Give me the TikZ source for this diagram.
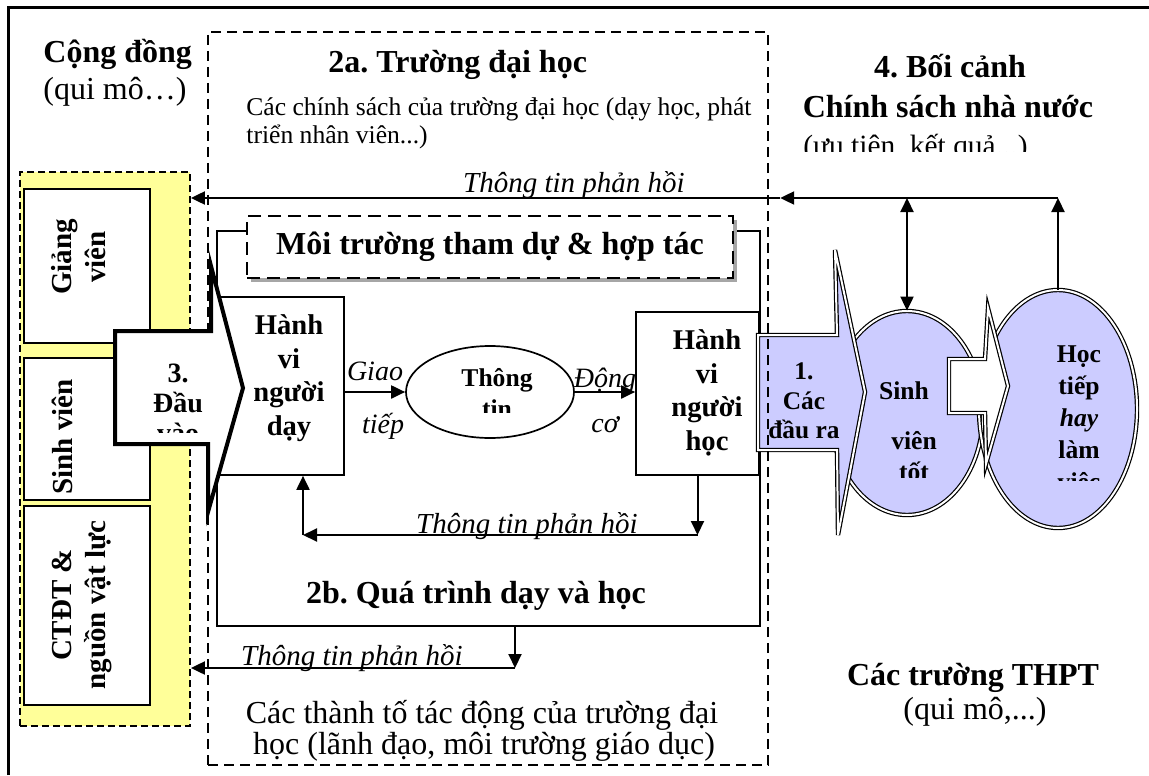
\documentclass[tikz,border=0pt]{standalone}
\usepackage{fontspec}
\setmainfont{Liberation Serif}
\usetikzlibrary{positioning,arrows.meta,shapes.geometric,shadows}

\definecolor{inyellow}{RGB}{255,255,153}
\definecolor{outlilac}{RGB}{204,204,255}

\begin{document}
\frenchspacing
\begin{tikzpicture}[x=0.5pt, y=-0.5pt,
    box/.style={draw=black, line width=0.85pt, fill=white, inner sep=0pt},
    sidetext/.style={font=\fontsize{14.5}{17}\selectfont\bfseries, align=center, inner sep=0pt, rotate=90},
    boxtext/.style={font=\fontsize{14.3}{16.8}\selectfont\bfseries, align=center, inner sep=0pt},
    smalltext/.style={font=\fontsize{12.8}{15.5}\selectfont\bfseries, align=center, inner sep=0pt},
    headtext/.style={font=\fontsize{16}{18.5}\selectfont\bfseries, inner sep=0pt},
    plaintext/.style={font=\fontsize{16}{17.5}\selectfont, inner sep=0pt},
    feedback/.style={font=\fontsize{14.5}{17}\selectfont\itshape, inner sep=0pt},
    arrlabel/.style={font=\fontsize{14}{16}\selectfont\itshape, inner sep=0pt},
    arr/.style={-{Triangle[length=7pt,width=6.5pt]}, line width=1pt},
    arrboth/.style={{Triangle[length=7pt,width=6.5pt]}-{Triangle[length=7pt,width=6.5pt]}, line width=1pt},
    blockarrow/.style={draw=black, line width=2pt, fill=white, line join=miter},
    dbl/.style={draw=black, line width=0.6pt, double=white, double distance=1pt, line join=miter},
    ]
    \useasboundingbox (0,0) rectangle (1149,775);

    %Frame
    \draw[line width=1.5pt] (8,775) -- (8,8) -- (1149,8);

    %Community column
    \node[draw=black, dash pattern=on 3.5pt off 2pt, line width=0.9pt, fill=inyellow,
          minimum width=85pt, minimum height=277pt, inner sep=0pt] (comm) at (105,449) {};
    \node[box, minimum width=63pt, minimum height=77pt]   (lect) at (87,266)   {};
    \node[box, minimum width=63pt, minimum height=71pt]   (stud) at (87,429)   {};
    \node[box, minimum width=63pt, minimum height=99.5pt] (prog) at (87,605.5) {};
    \node[sidetext] (lectT) at (79,257) {Giảng\\viên};
    \node[sidetext, anchor=base] (studT) at (72,437) {Sinh viên};
    \node[sidetext] (progT) at (82,605) {CTĐT \&\\nguồn vật lực};

    %Teaching process
    \node[box, minimum width=271.5pt, minimum height=197.5pt] (proc) at (488.5,428.5) {};
    \node[headtext, anchor=base] (procT) at (476,603) {2b. Quá trình dạy và học};
    \node[draw=black, line width=0.65pt, dash pattern=on 6.5pt off 3.5pt, fill=white,
          minimum width=243pt, minimum height=31pt, headtext,
          drop shadow={shadow xshift=2pt, shadow yshift=-2pt, fill=black!35, opacity=1}]
        (env) at (490,247) {Môi trường tham dự \& hợp tác};
    \node[box, minimum width=63pt, minimum height=89pt] (teach) at (281,386) {};
    \node[boxtext] (teachT) at (289,378) {Hành\\vi\\người\\dạy};
    \node[draw=black, line width=0.85pt, ellipse, minimum width=84pt, minimum height=46pt,
          inner sep=0pt] (info) at (490,392) {};
    \begin{scope}
        \clip (400,340) rectangle (580,412);
        \node[smalltext] (infoT) at (497,393) {Thông\\tin};
    \end{scope}
    \node[box, minimum width=61.5pt, minimum height=81.5pt] (learn) at (697.5,393.5) {};
    \node[boxtext] (learnT) at (707,393) {Hành\\vi\\người\\học};

    \draw[arr] (teach.east |- info.west) -- node[arrlabel, above=5pt] (giao) {Giao}
        node[arrlabel, below=10pt, xshift=4pt] (tiep) {tiếp} (info.west);
    \draw[arr] (info.east) -- node[arrlabel, above=-1pt] (dong) {Động}
        node[arrlabel, below=12pt] (co) {cơ} (info.east -| learn.west);

    %Outcomes
    \node[ellipse, fill=outlilac, minimum width=76pt, minimum height=102pt, inner sep=0pt] (ell1) at (907,413) {};
    \node[ellipse, fill=outlilac, minimum width=79pt, minimum height=119pt, inner sep=0pt] (ell2) at (1058,409) {};
    \draw[dbl] (ell1.center) ellipse [x radius=38pt, y radius=51pt];
    \draw[dbl] (ell2.center) ellipse [x radius=39.5pt, y radius=59.5pt];
    \begin{scope}
        \clip (830,300) rectangle (990,477);
        \node[smalltext] (ell1T) at (904,391) {Sinh};
        \node[smalltext] (ell1T2) at (914,456) {viên\\tốt};
    \end{scope}
    \begin{scope}
        \clip (985,280) rectangle (1140,480);
        \node[smalltext, font=\fontsize{12.8}{16}\selectfont\bfseries] (ell2T) at (1079,421)
            {Học\\tiếp\\\textit{hay}\\làm\\việc};
    \end{scope}
    \draw[dbl, fill=white] (949,359) -- (985,359) -- (988,308) -- (1008,386)
        -- (986,464) -- (985,413) -- (949,413) -- cycle;
    \draw[dbl, fill=outlilac] (758,335) -- (837,335) -- (835,250) -- (865,392)
        -- (838,535) -- (837,450) -- (758,450) -- cycle;
    \node[smalltext, font=\fontsize{12.7}{14.8}\selectfont\bfseries] (outT) at (804,401) {1.\\Các\\đầu ra};

    %University
    \node[draw=black, dash pattern=on 5pt off 3pt, line width=1.15pt,
          minimum width=280pt, minimum height=366.5pt, inner sep=0pt] (uni) at (488,398.5) {};

    %Inputs
    \draw[blockarrow] (115,331) -- (211,331) -- (211,266) -- (243,388)
        -- (208,512) -- (208,444) -- (115,444) -- cycle;
    \begin{scope}
        \clip (130,340) rectangle (230,432);
        \node[boxtext, font=\fontsize{14}{15}\selectfont\bfseries] (inT) at (178,403) {3.\\Đầu\\vào};
    \end{scope}

    %Feedback lines
    \coordinate (topR) at (ell2.north |- 0,198);
    \coordinate (uniE) at ([xshift=5.5pt]uni.east);
    \coordinate (top2a) at (uniE |- topR);
    \draw[arr] (ell2.north) -- (topR);
    \draw[arrboth] (ell1.north) -- (ell1.north |- topR);
    \draw[arr] (topR) -- (top2a);
    \draw[arr] (top2a) -- (comm.east |- topR);
    \node[feedback, anchor=base] (fbTopT) at (574,192) {Thông tin phản hồi};

    \coordinate (fbR) at (learn.south |- 0,535);
    \coordinate (fbL) at (303,535);
    \draw[arr] (learn.south) -- (fbR);
    \draw[arr] (fbR) -- (fbL);
    \draw[arr] (fbL) -- (fbL |- teach.south);
    \node[feedback, anchor=base] (fbMidT) at (527,533) {Thông tin phản hồi};

    \coordinate (fbB) at (515,668);
    \draw[arr] (fbB |- proc.south) -- (fbB);
    \draw[arr] (fbB) -- (fbB -| comm.east);
    \node[feedback, anchor=base] (fbBotT) at (352,665) {Thông tin phản hồi};

    %Labels
    \node[headtext, anchor=base west] (commT) at (43,63) {Cộng đồng};
    \node[plaintext, anchor=base west] (commS) at (43,100) {(qui mô…)};
    \node[headtext, anchor=base west] (uniT) at (328,73) {2a. Trường đại học};
    \begin{scope}
        \clip (240,90) rectangle (753,160);
        \node[font=\fontsize{12.8}{14}\selectfont, anchor=base west, inner sep=0pt] (uniS)
            at (246,116) {Các chính sách của trường đại học (dạy học, phát};
    \end{scope}
    \node[font=\fontsize{12.8}{14}\selectfont, anchor=base west, inner sep=0pt] (uniS2)
        at (246,144) {triển nhân viên...)};
    \node[headtext, anchor=base] (ctxT) at (950,78) {4. Bối cảnh};
    \node[headtext, anchor=base] (ctxS) at (948,118) {Chính sách nhà nước};
    \begin{scope}
        \clip (790,120) rectangle (1100,152);
        \node[font=\fontsize{14.7}{17}\selectfont, anchor=base west, inner sep=0pt] (ctxS2)
            at (803,156) {(ưu tiên, kết quả...)};
    \end{scope}
    \node[headtext, anchor=base] (hsT) at (973,685) {Các trường THPT};
    \node[plaintext, anchor=base] (hsS) at (975,719) {(qui mô,...)};
    \node[plaintext, anchor=base] (uniB1) at (482,723) {Các thành tố tác động của trường đại};
    \node[plaintext, anchor=base] (uniB2) at (484,754) {học (lãnh đạo, môi trường giáo dục)};
\end{tikzpicture}
\end{document}
